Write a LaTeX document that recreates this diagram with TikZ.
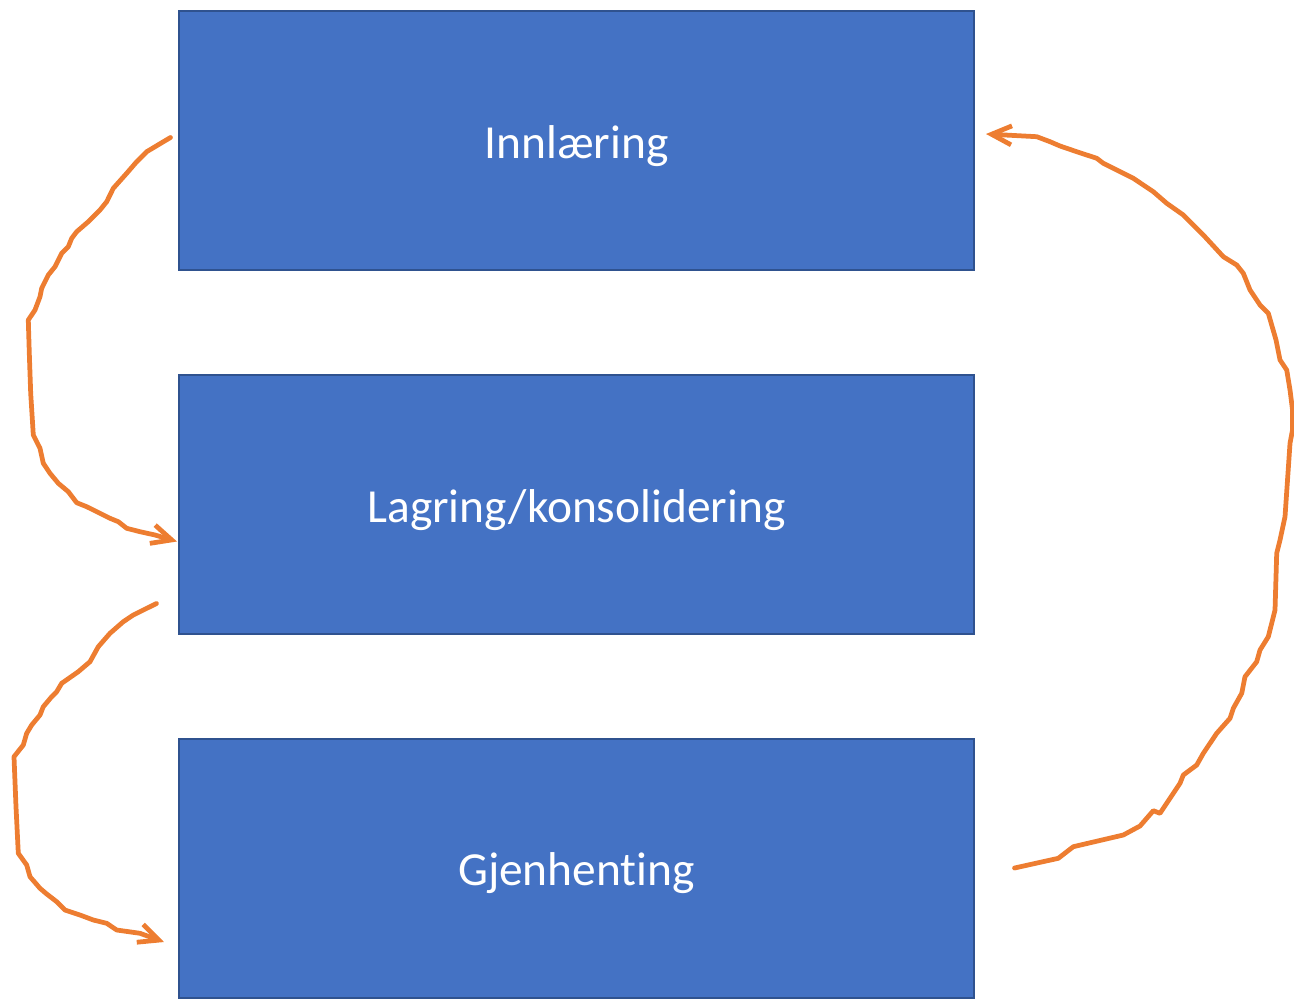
\documentclass[tikz,border=0pt]{standalone}
\usepackage{fontspec}
\setmainfont{Carlito}[Ligatures={NoCommon,NoRare}]
\usepackage{tikz}
\usetikzlibrary{arrows.meta}
\definecolor{stageBlue}{HTML}{4472C4}
\definecolor{stageBlueLine}{HTML}{2F528F}
\definecolor{loopOrange}{HTML}{ED7D31}
\tikzset{
  stagebox/.style={rectangle, draw=stageBlueLine, fill=stageBlue, line width=0.4mm, minimum width=159mm, minimum height=51.8mm, text=white, font=\fontsize{27}{32}\selectfont, text height=22pt, text depth=2pt, inner sep=0pt},
  loopflow/.style={-{Straight Barb[length=4mm, width=3.8mm]}, draw=loopOrange, line width=0.95mm, line join=round, line cap=round},
}

\begin{document}
\begin{tikzpicture}[x=0.2mm, y=-0.2mm]
  \useasboundingbox (0,0) rectangle (1294,1002);

  % Stages
  \node[stagebox] (innl) at (576.5, 140.5) {Innlæring};
  \node[stagebox] (lagr) at (576.5, 504.5) {Lagring/konsolidering};
  \node[stagebox] (gjen) at (576.5, 868) {Gjenhenting};

  % Innlæring -> Lagring
  \draw[loopflow] ([shift={(-7.5,-3)}]innl.west) -- (146.7,151.7) -- (136.7,161.7) -- (126.7,173.3)
    -- (113.3,188.3) -- (106.7,201.7) -- (100,210) -- (88.3,221.7) -- (76.7,231.7) -- (71.7,238.3)
    -- (68.3,246.7) -- (61.7,253.3) -- (55,266.7) -- (48.3,275) -- (41.7,288.3) -- (40,296.7)
    -- (35,310) -- (28.3,320) -- (29.3,353.3) -- (30.7,393.3) -- (33.3,435) -- (40,448.3)
    -- (43.3,463.3) -- (50,473.3) -- (58.3,483.3) -- (68.3,491.7) -- (76.7,502.7) -- (86.7,506.7)
    -- (100,513.3) -- (110,518.3) -- (118.3,521.7) -- (126.7,528.3) -- (140,531.7) -- (155,535)
    -- ([shift={(-1,37)}]lagr.west);

  % Lagring -> Gjenhenting
  \draw[loopflow] ([shift={(-21.5,99)}]lagr.west) -- (133.3,615) -- (123.3,621.7) -- (110,633.3)
    -- (98.3,646.7) -- (90,661.7) -- (78.3,671.7) -- (61.7,683.3) -- (56.7,691.7) -- (51.7,696.7)
    -- (43.3,706.7) -- (40,715) -- (31.7,725) -- (26.7,733.3) -- (23.3,745) -- (14,756.7)
    -- (16,806.7) -- (18.3,853.3) -- (26.7,865) -- (30,876.7) -- (40,888.3) -- (46.7,894)
    -- (56.7,901.7) -- (65,910) -- (80,915) -- (93.3,920) -- (106.7,923.3) -- (116.7,930)
    -- (140,933.3) -- ([shift={(-14,74)}]gjen.west);

  % Gjenhenting -> Innlæring
  \draw[loopflow] ([shift={(39.5,0)}]gjen.east) -- (1058.3,858.3) -- (1073.3,846.7) -- (1123.3,835)
    -- (1140,826) -- (1153.3,810.7) -- (1160,813.3) -- (1180,783.3) -- (1183.3,775) -- (1196.7,765)
    -- (1203.3,753.3) -- (1216.7,733.3) -- (1230,718.3) -- (1233.3,708.3) -- (1241.7,693.3)
    -- (1245,676.7) -- (1256.7,661.7) -- (1260,650) -- (1268.3,636.7) -- (1275,610)
    -- (1276.7,553.3) -- (1280,540) -- (1285,516.7) -- (1290,443.3) -- (1292.5,430)
    -- (1292.5,410) -- (1290,390) -- (1286.7,370) -- (1280,360) -- (1276,340) -- (1268.3,313.3)
    -- (1260,305) -- (1250,290) -- (1243.3,273.3) -- (1236.7,265) -- (1223.3,256.7) -- (1203.3,235)
    -- (1183.3,215) -- (1166.7,203.3) -- (1153.3,191.7) -- (1133.3,178.3) -- (1116.7,170)
    -- (1103.3,163.3) -- (1096.7,158.3) -- (1076.7,151.7) -- (1060,146) -- (1050,141.7)
    -- (1036.7,136.7) -- ([shift={(11,-6.5)}]innl.east);
\end{tikzpicture}
\end{document}
